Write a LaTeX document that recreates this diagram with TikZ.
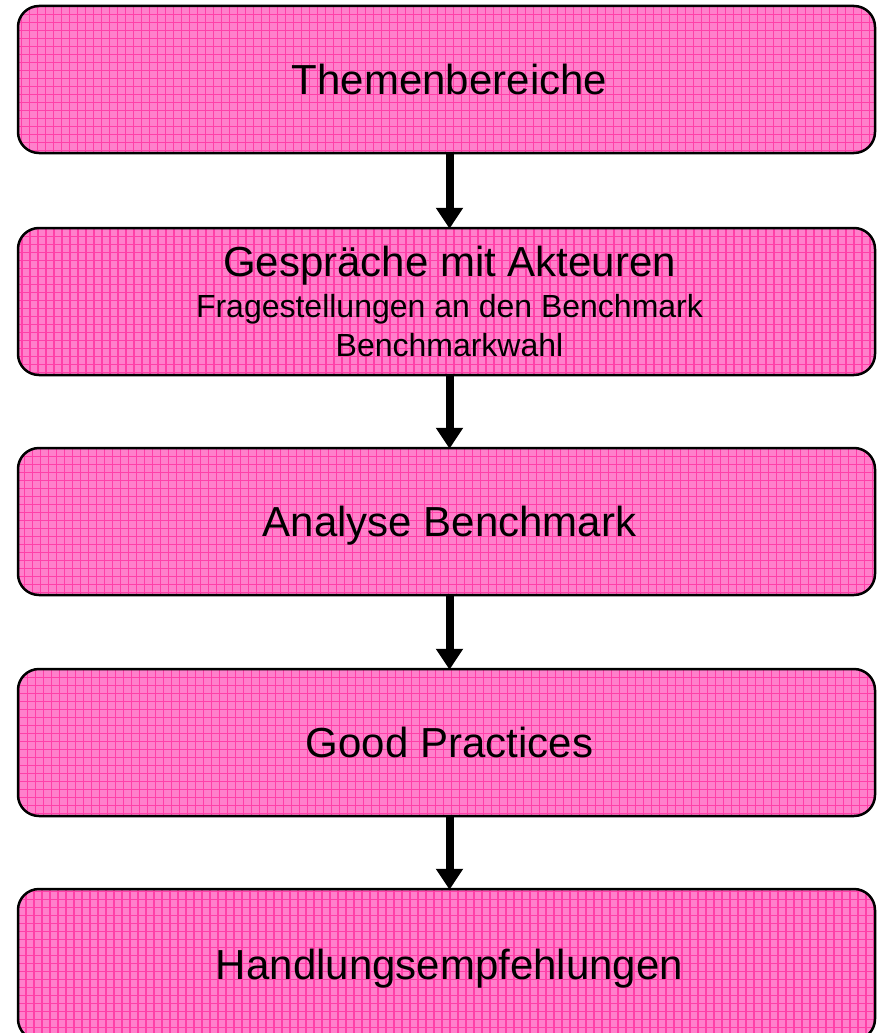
\documentclass[tikz,border=0pt]{standalone}
\usepackage{fontspec}
\setmainfont{Liberation Sans}
\usetikzlibrary{arrows.meta}
\definecolor{boxpink}{HTML}{FF80CB}
\definecolor{gridpink}{HTML}{FF40A8}
\tikzset{
  stagebox/.style={draw=black, line width=2.5pt, rounded corners=21pt,
    fill=boxpink, minimum width=857pt, minimum height=147pt, inner sep=0pt,
    path picture={\draw[gridpink, line width=1.1pt]
      (path picture bounding box.south west) grid[step=8pt]
      (path picture bounding box.north east);}},
  bigtext/.style={font=\fontsize{42}{48}\selectfont, text height=30pt, text depth=0pt},
  flowarrow/.style={line width=8pt, -{Triangle[width=26pt,length=21pt]}, shorten >=-2pt}
}
\begin{document}
\begin{tikzpicture}[x=1pt,y=-1pt]
\useasboundingbox (0,0) rectangle (876,1033);
\node[stagebox, bigtext] (b1) at (446.5,79.5) {\hspace{6pt}Themenbereiche};
\node[stagebox, align=center, font=\fontsize{32}{39}\selectfont] (b2) at (446.5,301.5)
  {\hspace{6pt}{\fontsize{42}{48}\selectfont Gespräche mit Akteuren}\\[2pt]\hspace{6pt}Fragestellungen an den Benchmark\\\hspace{6pt}Benchmarkwahl};
\node[stagebox, bigtext] (b3) at (446.5,521.5) {\hspace{6pt}Analyse Benchmark};
\node[stagebox, bigtext] (b4) at (446.5,742.5) {\hspace{6pt}Good Practices};
\node[stagebox, minimum height=151pt, font=\fontsize{42}{48}\selectfont, text height=30pt, text depth=0pt] (b5) at (446.5,964.5) {\hspace{6pt}Handlungsempfehlungen};
\coordinate (col) at (449.5,0);
\draw[flowarrow] (b1.south -| col) -- (b2.north -| col);
\draw[flowarrow] (b2.south -| col) -- (b3.north -| col);
\draw[flowarrow] (b3.south -| col) -- (b4.north -| col);
\draw[flowarrow] (b4.south -| col) -- (b5.north -| col);
\end{tikzpicture}
\end{document}
